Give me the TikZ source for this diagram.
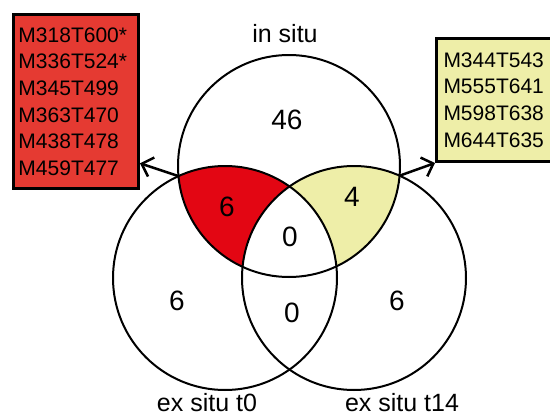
\documentclass[tikz,border=0pt]{standalone}
\usepackage{fontspec}
\setmainfont{Liberation Sans}
\usepackage{tikz}
\usetikzlibrary{calc,arrows.meta,positioning}
\definecolor{vennred}{HTML}{E30613}
\definecolor{boxred}{HTML}{E53A32}
\definecolor{vennyel}{HTML}{EEEEA8}
\tikzset{
  ar/.style={-{Straight Barb[length=10pt,width=20pt,line width=2.5pt]},line width=2.5pt},
  ring/.style={draw=black,line width=2pt},
  num/.style={font=\fontsize{28}{30}\selectfont,inner sep=0pt},
  setname/.style={font=\fontsize{25}{28}\selectfont,anchor=base,inner sep=0pt},
  listbox/.style={draw=black,line width=3pt,anchor=north west,align=left,
    font=\fontsize{21}{26.6}\selectfont,inner ysep=0pt}
}
\begin{document}
\begin{tikzpicture}[x=1pt,y=-1pt]
\useasboundingbox (0,0) rectangle (550,416);
\coordinate (T) at (289,166); \coordinate (L) at (225,278); \coordinate (R) at (354,278);
\coordinate (ltip) at (178.4,176.1); \coordinate (rtip) at (399.6,175.7);
% shaded regions
\begin{scope}
\clip (T) circle[radius=111pt];
\fill[vennred] (L) circle[radius=112pt];
\fill[vennyel] (R) circle[radius=112pt];
\clip (L) circle[radius=112pt];
\fill[white] (R) circle[radius=112pt];
\end{scope}
\draw[ring] (T) circle[radius=111pt];
\draw[ring] (L) circle[radius=112pt];
\draw[ring] (R) circle[radius=112pt];
\node[num] (n46) at (287,120) {46};
\node[num] (nTL) at (227,207) {6};
\node[num] (nTR) at (352,197) {4};
\node[num] (nC) at (290,237) {0};
\node[num] (nL) at (177,301) {6};
\node[num] (nLR) at (292,313) {0};
\node[num] (nR) at (397,301) {6};
\node[setname] (tinsitu) at (285,42) {in situ};
\node[setname] (tt0) at (207,411) {ex situ t0};
\node[setname] (tt14) at (402,411) {ex situ t14};
\node[listbox,fill=boxred,minimum height=174pt,inner xsep=5pt,text width=115pt] (redbox) at (12,13)
  {M318T600*\\M336T524*\\M345T499\\M363T470\\M438T478\\M459T477};
\node[listbox,fill=vennyel,minimum height=123pt,inner xsep=7pt,text width=120pt] (yelbox) at (435,37)
  {M344T543\\M555T641\\M598T638\\M644T635};
\draw[ar] (ltip) -- (redbox.-44);
\draw[ar] (rtip) -- (yelbox.south west);
\end{tikzpicture}
\end{document}
